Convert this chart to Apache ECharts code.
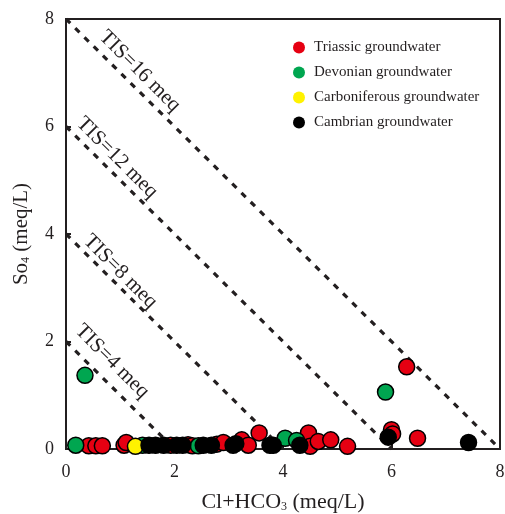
<!DOCTYPE html>
<html><head><meta charset="utf-8">
<script src="https://cdn.jsdelivr.net/npm/echarts@6/dist/echarts.min.js"></script>
<style>html,body{margin:0;padding:0;background:#fff}#c{width:505px;height:514px}</style>
</head><body><div id="c"></div>
<script>
const seriesNames = ['Triassic groundwater','Devonian groundwater','Carboniferous groundwater','Cambrian groundwater'];
const triassic = [[0.42,0.06],[0.55,0.06],[0.67,0.06],[1.07,0.07],[1.11,0.12],[1.93,0.07],[2.25,0.08],[2.33,0.06],[2.78,0.09],[2.9,0.12],[3.24,0.17],[3.36,0.07],[3.56,0.3],[4.47,0.3],[4.5,0.05],[4.65,0.14],[4.88,0.17],[5.19,0.05],[6.0,0.36],[6.02,0.28],[6.48,0.2],[6.28,1.53]];
const devonian = [[0.18,0.07],[0.35,1.37],[1.41,0.07],[2.44,0.06],[4.04,0.2],[4.25,0.16],[5.89,1.06]];
const carboniferous = [[1.28,0.05]];
const cambrian = [[1.53,0.07],[1.65,0.07],[1.8,0.07],[2.04,0.07],[2.15,0.07],[2.53,0.07],[2.68,0.07],[3.08,0.07],[3.13,0.1],[3.76,0.07],[3.82,0.07],[4.31,0.07],[5.94,0.22],[7.42,0.12]];
const tisValues = [4, 8, 12, 16];
const tisLabels = ['TIS=4 meq','TIS=8 meq','TIS=12 meq','TIS=16 meq'];
const tisLabelPos = [[0.85,1.63],[1.0,3.3],[0.94,5.42],[1.36,7.03]];
const xTicks = [0,2,4,6,8];
const yTicks = [0,2,4,6,8];

const colors = ['#e60012','#00a650','#fff200','#000000'];
const dataSets = [triassic, devonian, carboniferous, cambrian];
const font = 'Liberation Serif, Times New Roman, serif';
const ink = '#231f20';

const series = [];
tisValues.forEach((t, i) => {
  const c = t / 2;
  series.push({
    type: 'line', data: [[0, c], [c, 0]], symbol: 'none', silent: true,
    lineStyle: {color: ink, width: 3.2, type: [6, 7]}, z: 1
  });
});
series.push({
  type: 'scatter', symbolSize: 1, silent: true,
  itemStyle: {color: 'rgba(0,0,0,0)'},
  data: tisLabelPos.map((p, i) => ({value: p, label: {formatter: tisLabels[i]}})),
  label: {show: true, position: 'inside', rotate: -45, fontFamily: font, fontSize: 21, color: ink, textBorderWidth: 0, opacity: 1},
  z: 2
});
dataSets.forEach((d, i) => {
  series.push({
    name: seriesNames[i], type: 'scatter', data: d, symbol: 'circle', symbolSize: 16,
    itemStyle: {color: colors[i], borderColor: '#000', borderWidth: 1.5, opacity: 1}, z: 5
  });
});

const chart = echarts.init(document.getElementById('c'), null, {renderer: 'canvas'});
chart.setOption({
  backgroundColor: '#fff',
  animation: false,
  grid: {left: 66, right: 5, top: 19, bottom: 65, containLabel: false, outerBoundsMode: 'none', show: true, borderColor: ink, borderWidth: 2, backgroundColor: 'transparent'},
  legend: {
    data: seriesNames, orient: 'vertical', left: 288, top: 35, icon: 'circle',
    itemWidth: 20, itemHeight: 12, itemGap: 10,
    itemStyle: {borderWidth: 0},
    textStyle: {fontFamily: font, fontSize: 15, color: ink, lineHeight: 15}
  },
  xAxis: {
    type: 'value', min: xTicks[0], max: xTicks[xTicks.length - 1], interval: 2,
    splitLine: {show: false},
    axisLine: {lineStyle: {color: ink, width: 2}},
    axisTick: {inside: true, length: 5, lineStyle: {color: ink, width: 2}},
    axisLabel: {fontFamily: font, fontSize: 18, color: ink, margin: 14},
    name: '{a|Cl+HCO}{s|3}{a| (meq/L)}', nameLocation: 'middle', nameGap: 40,
    nameTextStyle: {rich: {
      a: {fontFamily: font, fontSize: 22, color: ink, lineHeight: 24, verticalAlign: 'bottom'},
      s: {fontFamily: font, fontSize: 12, color: ink, lineHeight: 18, verticalAlign: 'bottom'}
    }}
  },
  yAxis: {
    type: 'value', min: yTicks[0], max: yTicks[yTicks.length - 1], interval: 2,
    splitLine: {show: false},
    axisLine: {lineStyle: {color: ink, width: 2}},
    axisTick: {inside: true, length: 5, lineStyle: {color: ink, width: 2}},
    axisLabel: {fontFamily: font, fontSize: 18, color: ink, margin: 12},
    name: '{a|So}{s|4}{a| (meq/L)}', nameLocation: 'middle', nameGap: 34,
    nameTextStyle: {rich: {
      a: {fontFamily: font, fontSize: 21, color: ink, lineHeight: 24, verticalAlign: 'bottom'},
      s: {fontFamily: font, fontSize: 12, color: ink, lineHeight: 18, verticalAlign: 'bottom'}
    }}
  },
  series: series
});
</script></body></html>
